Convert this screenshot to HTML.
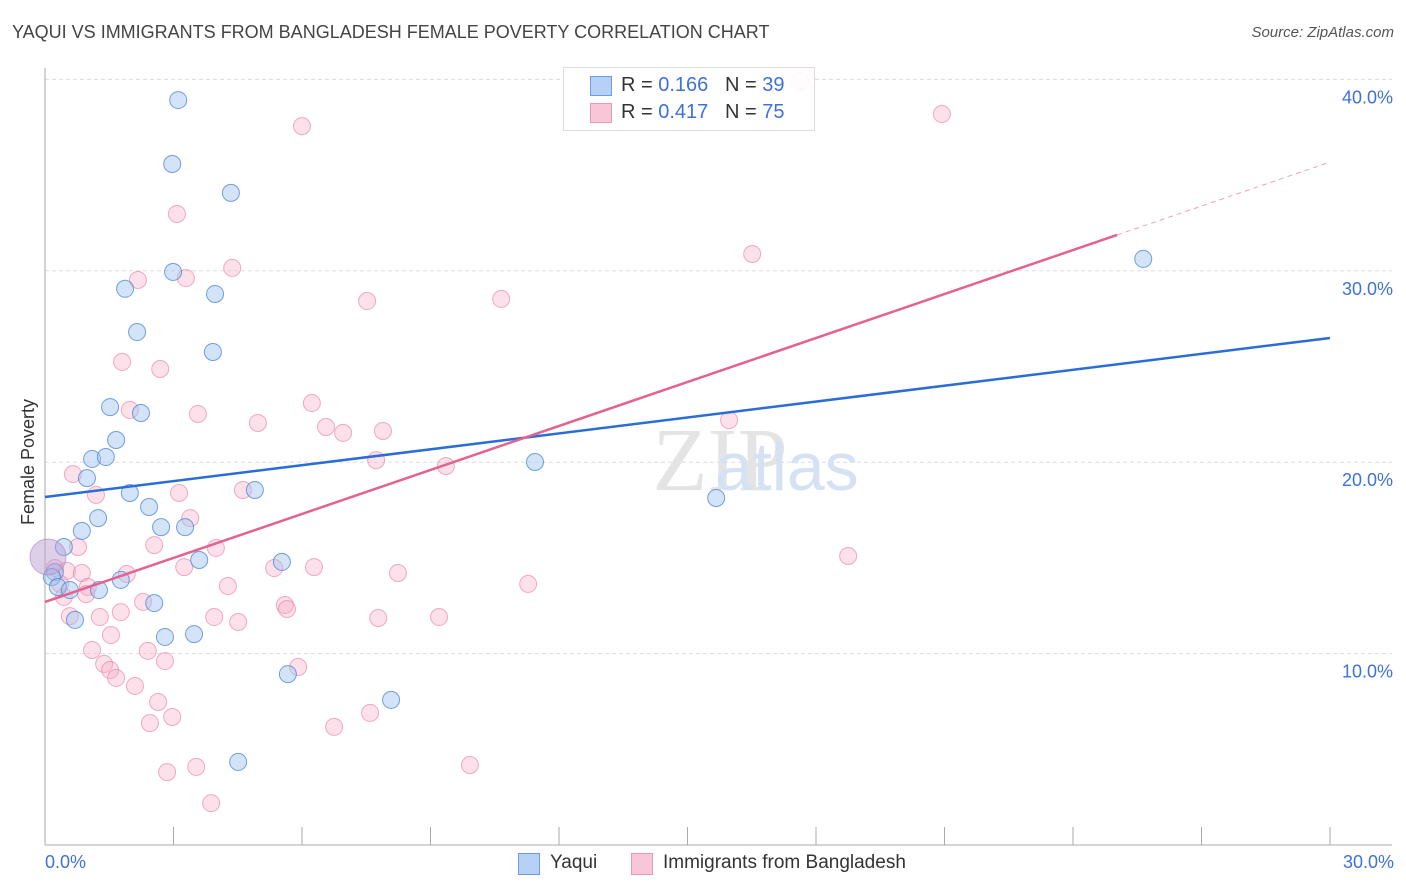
<!DOCTYPE html>
<html><head><meta charset="utf-8"><style>
body{margin:0;background:#fff;font-family:"Liberation Sans",sans-serif;}
#w{position:relative;width:1406px;height:892px;overflow:hidden}
.t{position:absolute;white-space:nowrap}
</style></head><body><div id="w">
<div class="t" style="left:12px;top:22px;font-size:18px;color:#444">YAQUI VS IMMIGRANTS FROM BANGLADESH FEMALE POVERTY CORRELATION CHART</div>
<div class="t" style="right:12px;top:24px;font-size:15px;color:#555;font-style:italic">Source: ZipAtlas.com</div>
<svg id="s" width="1406" height="892" style="position:absolute;left:0;top:0"></svg>
</div>
<script>
const yaquiX=[3.11,2.97,4.34,2.99,1.87,3.97,2.15,3.92,1.52,2.24,1.66,1.10,1.42,0.98,1.98,4.90,2.43,1.24,2.71,3.27,0.86,0.44,0.23,0.16,0.30,0.58,1.26,1.77,2.55,3.60,5.53,0.70,2.80,3.48,5.67,8.08,4.51,11.44,15.67,25.64];
const yaquiY=[38.92,35.58,34.07,29.94,29.06,28.79,26.80,25.76,22.88,22.57,21.16,20.17,20.27,19.17,18.39,18.55,17.66,17.08,16.61,16.61,16.41,15.57,14.26,14.00,13.48,13.32,13.32,13.85,12.64,14.89,14.79,11.76,10.87,11.02,8.93,7.58,4.34,20.01,18.13,30.62];
const bangX=[17.63,20.94,6.00,3.08,4.37,2.17,3.29,7.52,10.65,16.51,1.80,2.69,1.98,3.57,4.97,6.23,6.56,6.96,7.89,7.73,9.36,15.97,0.65,1.19,3.13,4.62,3.39,2.55,0.77,3.99,3.25,5.35,6.28,8.24,11.28,18.75,0.23,0.51,0.86,1.91,0.35,1.00,0.44,0.96,2.29,4.27,5.60,5.65,0.58,1.28,1.77,3.95,4.51,7.78,9.20,1.54,1.10,2.40,2.80,1.38,1.52,1.66,5.91,2.10,2.64,2.97,2.45,6.75,7.59,2.85,3.53,9.92,3.88];
const bangY=[39.92,38.19,37.56,32.97,30.15,29.52,29.62,28.42,28.53,30.88,25.24,24.87,22.73,22.52,22.05,23.09,21.84,21.53,21.63,20.11,19.80,22.20,19.38,18.29,18.39,18.55,17.08,15.67,15.57,15.52,14.52,14.47,14.52,14.21,13.64,15.10,14.47,14.32,14.21,14.16,13.64,13.48,12.96,13.11,12.70,13.53,12.54,12.33,11.96,11.91,12.17,11.91,11.65,11.86,11.91,10.97,10.19,10.14,9.61,9.46,9.14,8.73,9.30,8.31,7.47,6.69,6.37,6.17,6.90,3.81,4.08,4.18,2.19];
const bigPoint=[0.07,15.05];
const yTicks=[10,20,30,40];
const yTickLabels=["10.0%","20.0%","30.0%","40.0%"];
const xTicks=[0,3,6,9,12,15,18,21,24,27,30];
const yaquiTrend=[18.18,26.49];
const bangTrend=[12.70,35.68];
const bangSolidEnd=25.03;

const NS="http://www.w3.org/2000/svg",s=document.getElementById('s');
const X=v=>45+v*1285/30, Y=v=>845-v*19.14;
function el(t,a){const e=document.createElementNS(NS,t);for(const k in a)e.setAttribute(k,a[k]);s.appendChild(e);return e;}
yTicks.forEach((v,i)=>{
 const g=el('line',{x1:45,x2:1392,y1:Y(v),y2:Y(v),stroke:'#ddd','stroke-dasharray':'4,3'});
 
 
 const t=el('text',{x:1393,y:Y(v)+24,'text-anchor':'end','font-size':18,fill:'#3d72d6','font-family':'Liberation Sans'});
 t.textContent=yTickLabels[i];
 
 
});
const ax=el('line',{x1:45,x2:45,y1:68,y2:845,stroke:'#aaa'});


const bx=el('line',{x1:45,x2:1392,y1:845,y2:845,stroke:'#aaa'});


xTicks.forEach(v=>{
 const tk=el('line',{x1:X(v),x2:X(v),y1:827,y2:845,stroke:'#aaa'});
 
 
});
const wm=el('text',{x:720,y:490,'text-anchor':'middle','font-size':90,fill:'#e4e4e4','font-family':'Liberation Serif'});
wm.textContent='ZIP';


const wm2=el('text',{x:800,y:490,'font-size':68,fill:'#d4e2f3','font-family':'Liberation Sans'});
wm2.textContent='atlas';wm2.setAttribute('x',715);


bangX.forEach((x,i)=>{
 const c=el('circle',{cx:X(x),cy:Y(bangY[i]),r:8.5,fill:'rgba(246,170,195,0.35)',stroke:'rgba(232,120,155,0.6)','stroke-width':1});
 
 
});
yaquiX.forEach((x,i)=>{
 const c=el('circle',{cx:X(x),cy:Y(yaquiY[i]),r:8.5,fill:'rgba(160,195,240,0.45)',stroke:'rgba(70,130,215,0.75)','stroke-width':1});
 
 
});
const bp=el('circle',{cx:X(bigPoint[0]),cy:Y(bigPoint[1]),r:18,fill:'rgba(190,160,210,0.5)',stroke:'rgba(170,130,200,0.6)'});


const ty=el('line',{x1:X(0),y1:Y(yaquiTrend[0]),x2:X(30),y2:Y(yaquiTrend[1]),stroke:'#2a6dd6','stroke-width':2.5});


const bY=x=>bangTrend[0]+(bangTrend[1]-bangTrend[0])*x/30;
const tb=el('line',{x1:X(0),y1:Y(bY(0)),x2:X(bangSolidEnd),y2:Y(bY(bangSolidEnd)),stroke:'#e4628e','stroke-width':2.5});


const td=el('line',{x1:X(bangSolidEnd),y1:Y(bY(bangSolidEnd)),x2:X(30),y2:Y(bY(30)),stroke:'#e4628e','stroke-width':1,'stroke-dasharray':'5,4',opacity:0.6});


</script>
<div class="t" style="left:563px;top:67px;width:250px;height:62px;border:1px solid #ddd;background:rgba(255,255,255,0.9)">
 <div style="position:absolute;left:26px;top:8px;width:20px;height:18px;background:#b6d1f5;border:1px solid #6d9de0"></div>
 <div class="t" style="left:57px;top:6px;font-size:20px;color:#333">R = <span style="color:#3d72d6">0.166</span>&nbsp;&nbsp;&nbsp;N = <span style="color:#3d72d6">39</span></div>
 <div style="position:absolute;left:26px;top:35px;width:20px;height:18px;background:#f8c6d6;border:1px solid #e999b3"></div>
 <div class="t" style="left:57px;top:33px;font-size:20px;color:#333">R = <span style="color:#3d72d6">0.417</span>&nbsp;&nbsp;&nbsp;N = <span style="color:#3d72d6">75</span></div>
</div>
<div class="t" style="left:45px;top:852px;font-size:18px;color:#3d72d6">0.0%</div>
<div class="t" style="right:12px;top:852px;font-size:18px;color:#3d72d6">30.0%</div>
<div class="t" style="left:18px;top:525px;font-size:18px;color:#333;transform:rotate(-90deg);transform-origin:0 0">Female Poverty</div>
<div class="t" style="left:518px;top:853px;width:20px;height:20px;background:#b6d1f5;border:1px solid #6d9de0"></div>
<div class="t" style="left:550px;top:852px;font-size:19px;color:#333">Yaqui</div>
<div class="t" style="left:631px;top:853px;width:20px;height:20px;background:#f8c6d6;border:1px solid #e999b3"></div>
<div class="t" style="left:663px;top:852px;font-size:19px;color:#333">Immigrants from Bangladesh</div>
</body></html>
